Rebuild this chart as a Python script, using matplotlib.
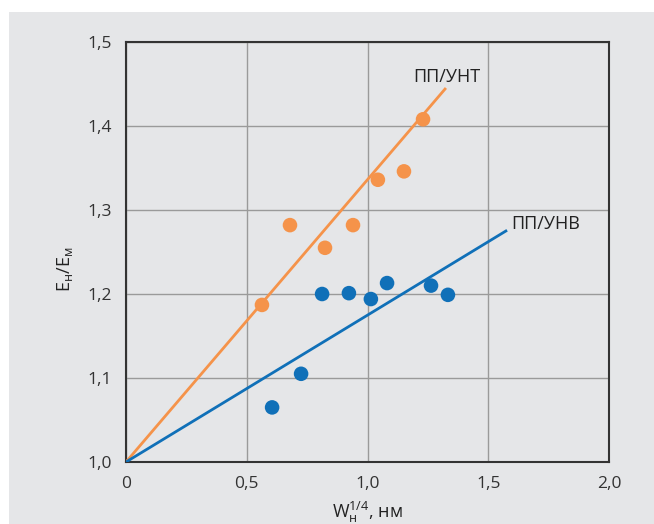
import matplotlib
matplotlib.use("Agg")
import matplotlib.pyplot as plt
from matplotlib.patches import Rectangle
from matplotlib.ticker import FuncFormatter

plt.rcParams['font.family'] = ['Open Sans', 'DejaVu Sans']
plt.rcParams['mathtext.fontset'] = 'custom'
plt.rcParams['mathtext.rm'] = 'Open Sans'

# Data
unt_x = [0.563, 0.679, 0.824, 0.940, 1.043, 1.151, 1.230]
unt_y = [1.187, 1.282, 1.255, 1.282, 1.336, 1.346, 1.408]
unt_line_x = [0.0, 1.321]
unt_line_y = [1.0, 1.444]

unv_x = [0.605, 0.725, 0.812, 0.923, 1.014, 1.081, 1.263, 1.333]
unv_y = [1.065, 1.105, 1.200, 1.201, 1.194, 1.213, 1.210, 1.199]
unv_line_x = [0.0, 1.573]
unv_line_y = [1.0, 1.275]

x_ticks = [0, 0.5, 1.0, 1.5, 2.0]
y_ticks = [1.0, 1.1, 1.2, 1.3, 1.4, 1.5]

orange = '#f5934a'
blue = '#1070b8'
bg = '#e5e6e8'

fig = plt.figure(figsize=(6.54, 5.24), dpi=100, facecolor='white')
bgrect = Rectangle((9/654, 0), 1 - 9/654, (524 - 12)/524,
                   transform=fig.transFigure, facecolor=bg,
                   edgecolor='none', zorder=-10)
fig.add_artist(bgrect)
ax = fig.add_axes([126/654, (524-462)/524, (609-126)/654, (462-42)/524])
ax.set_zorder(1)
ax.set_facecolor(bg)

ax.set_xlim(0, 2.0)
ax.set_ylim(1.0, 1.5)
ax.set_xticks(x_ticks)
ax.set_yticks(y_ticks)

def fmt_x(v, p):
    return '0' if v == 0 else f'{v:.1f}'.replace('.', ',')
def fmt_y(v, p):
    return f'{v:.1f}'.replace('.', ',')
ax.xaxis.set_major_formatter(FuncFormatter(fmt_x))
ax.yaxis.set_major_formatter(FuncFormatter(fmt_y))

ax.grid(True, color='#9a9a9a', linewidth=1.0)
ax.set_axisbelow(True)
for s in ax.spines.values():
    s.set_color('#333333')
    s.set_linewidth(1.5)
ax.tick_params(direction='in', length=0, labelsize=12.5, labelcolor='#333333', pad=10)

ax.plot(unt_line_x, unt_line_y, color=orange, linewidth=2, zorder=3)
ax.plot(unv_line_x, unv_line_y, color=blue, linewidth=2, zorder=3)
ax.scatter(unt_x, unt_y, s=110, color=orange, zorder=4, edgecolors='none')
ax.scatter(unv_x, unv_y, s=110, color=blue, zorder=4, edgecolors='none')

ax.text(1.19, 1.458, 'ПП/УНТ', fontsize=13, color='#222222', va='center', ha='left')
ax.text(1.594, 1.283, 'ПП/УНВ', fontsize=13, color='#222222', va='center', ha='left')

ax.set_xlabel(r'$\mathregular{W_{н}^{1/4}}$, нм', fontsize=13, color='#222222', labelpad=6)
ax.set_ylabel(r'$\mathregular{E_{н}/E_{м}}$', fontsize=13, color='#222222')
ax.yaxis.set_label_coords(-0.105, 0.46)

fig.savefig('out.png', dpi=100, facecolor='white')
